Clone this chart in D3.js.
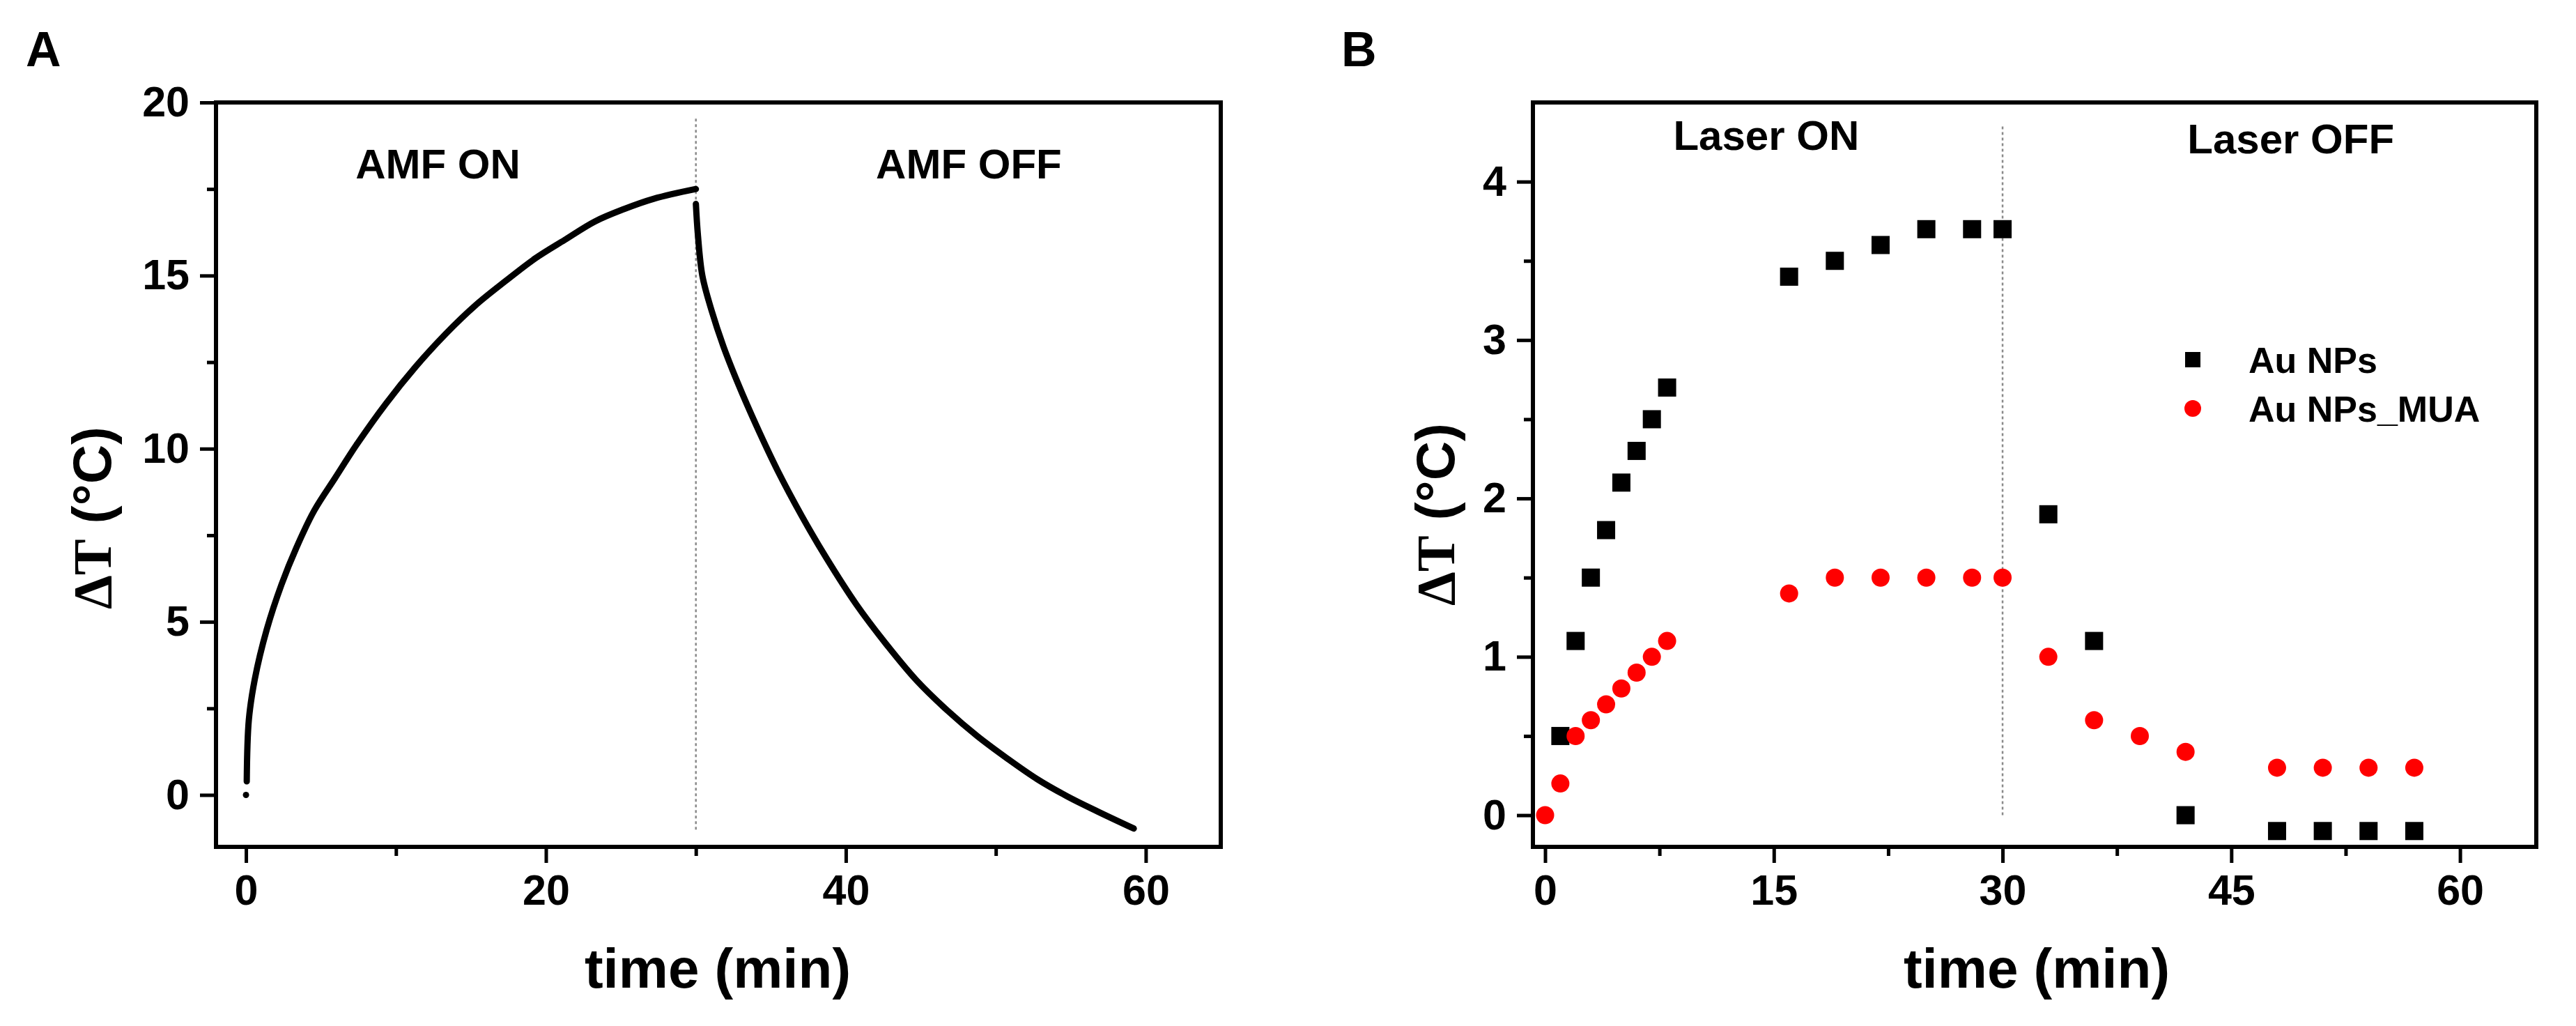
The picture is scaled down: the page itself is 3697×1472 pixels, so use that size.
<!doctype html>
<html>
  <head>
    <meta charset="utf-8">
    <title>Heating and cooling curves</title>
    <style>
      body { margin: 0; background: #fff; }
      text { font-family: 'Liberation Sans', Arial, sans-serif; font-weight: bold; fill: #000; }
    </style>
  </head>
  <body>
    <svg width='3697' height='1472'></svg>

  <script src='https://d3js.org/d3.v7.min.js'></script>
  <script>
// Panel A: AMF heating then cooling trace
var amfStartTime = [0];
var amfStartDT = [0];
var amfOnTime = [0.05, 0.19, 0.59, 1.38, 2.37, 3.37, 4.56, 5.95, 7.35, 9.33, 11.3, 13.3, 15.3, 17.3, 19.3, 21.25, 23.25, 25.2, 27.2, 30.0];
var amfOnDT = [0.39, 2.17, 3.35, 4.77, 6.08, 7.15, 8.22, 9.16, 10.1, 11.3, 12.36, 13.31, 14.14, 14.84, 15.5, 16.03, 16.56, 16.92, 17.22, 17.5];
var amfOffTime = [30.0, 30.13, 30.43, 31.04, 31.84, 32.84, 34.05, 35.47, 37.07, 38.69, 40.7, 42.7, 44.73, 46.74, 48.76, 50.77, 52.78, 54.8, 56.8, 59.2];
var amfOffDT = [17.07, 16.2, 15.0, 14.0, 12.95, 11.85, 10.65, 9.35, 8.05, 6.85, 5.5, 4.35, 3.3, 2.45, 1.7, 1.05, 0.45, -0.05, -0.48, -0.97];
var aXTicks = [0, 20, 40, 60];
var aXMinor = [10, 30, 50];
var aYTicks = [0, 5, 10, 15, 20];
var aYMinor = [2.5, 7.5, 12.5, 17.5];

// Panel B: laser heating, two samples
var npTime = [1, 2, 3, 4, 5, 6, 7, 8, 16, 19, 22, 25, 28, 30, 33, 36, 42, 48, 51, 54, 57];
var npDT = [0.5, 1.1, 1.5, 1.8, 2.1, 2.3, 2.5, 2.7, 3.4, 3.5, 3.6, 3.7, 3.7, 3.7, 1.9, 1.1, 0, -0.1, -0.1, -0.1, -0.1];
var muaTime = [0, 1, 2, 3, 4, 5, 6, 7, 8, 16, 19, 22, 25, 28, 30, 33, 36, 39, 42, 48, 51, 54, 57];
var muaDT = [0, 0.2, 0.5, 0.6, 0.7, 0.8, 0.9, 1.0, 1.1, 1.4, 1.5, 1.5, 1.5, 1.5, 1.5, 1.0, 0.6, 0.5, 0.4, 0.3, 0.3, 0.3, 0.3];
var bXTicks = [0, 15, 30, 45, 60];
var bXMinor = [7.5, 22.5, 37.5, 52.5];
var bYTicks = [0, 1, 2, 3, 4];
var bYMinor = [0.5, 1.5, 2.5, 3.5];
var seriesNames = ['Au NPs', 'Au NPs_MUA'];

var svg = d3.select('svg');
svg.append('rect').attr('width', 3697).attr('height', 1472).attr('fill', '#fff');

// frame, ticks, tick labels and titles shared by both panels
function drawPanel(p) {
  var g = svg.append('g').attr('transform', 'translate(' + p.left + ',' + p.top + ')');
  var x = d3.scaleLinear().domain(p.xDomain).range([0, p.width]);
  var y = d3.scaleLinear().domain(p.yDomain).range([p.height, 0]);
  var fmt = d3.format('~g');

  var xMinor = g.append('g').attr('transform', 'translate(0,' + p.height + ')')
    .call(d3.axisBottom(x).tickValues(p.xMinor).tickSize(13).tickFormat(''));
  var xMajor = g.append('g').attr('transform', 'translate(0,' + p.height + ')')
    .call(d3.axisBottom(x).tickValues(p.xTicks).tickSize(23).tickPadding(17).tickFormat(fmt));
  var yMinor = g.append('g')
    .call(d3.axisLeft(y).tickValues(p.yMinor).tickSize(13).tickFormat(''));
  var yMajor = g.append('g')
    .call(d3.axisLeft(y).tickValues(p.yTicks).tickSize(23).tickPadding(15).tickFormat(fmt));
  [xMinor, xMajor, yMinor, yMajor].forEach(function(a) {
    a.select('.domain').remove();
    a.selectAll('line').attr('stroke', '#000').attr('stroke-width', 5);
    a.selectAll('text').style('font-size', '61px').attr('fill', '#000');
  });

  g.append('rect').attr('width', p.width).attr('height', p.height)
    .attr('fill', 'none').attr('stroke', '#000').attr('stroke-width', 6);

  // dotted separator at the switch-off time
  g.append('line')
    .attr('x1', x(30)).attr('x2', x(30))
    .attr('y1', y(p.sepRange[0])).attr('y2', y(p.sepRange[1]))
    .attr('stroke', '#8a8a8a').attr('stroke-width', 2.5).attr('stroke-dasharray', '4,4');

  svg.append('text').attr('x', p.letterX).attr('y', 95).style('font-size', '70px').text(p.letter);

  svg.append('text').attr('x', p.xTitleX).attr('y', 1417).attr('text-anchor', 'middle')
    .style('font-size', '80px').text('time (min)');

  var yt = svg.append('text')
    .attr('transform', 'translate(' + p.yTitleX + ',' + p.yTitleY + ') rotate(-90)')
    .attr('text-anchor', 'middle').attr('dy', '0.35em').style('font-size', '78px');
  yt.append('tspan').style('font-family', "'Liberation Serif', 'Times New Roman', serif").text('\u0394T');
  yt.append('tspan').text(' (\u00b0C)');

  p.notes.forEach(function(n) {
    g.append('text').attr('x', x(n[1])).attr('y', y(n[2])).attr('text-anchor', 'middle')
      .style('font-size', '60px').text(n[0]);
  });
  return {g: g, x: x, y: y};
}

// Panel A
var A = drawPanel({
  letter: 'A', letterX: 37,
  left: 310, top: 147, width: 1442, height: 1068,
  xDomain: [-2, 65], yDomain: [-1.5, 20],
  xTicks: aXTicks, xMinor: aXMinor, yTicks: aYTicks, yMinor: aYMinor,
  sepRange: [-1.0, 19.6],
  xTitleX: 1030, yTitleX: 132, yTitleY: 743,
  notes: [['AMF ON', 12.8, 17.8], ['AMF OFF', 48.2, 17.8]]
});

var line = d3.line().x(function(d) { return A.x(d[0]); }).y(function(d) { return A.y(d[1]); })
  .curve(d3.curveCatmullRom.alpha(0.5));
[[amfOnTime, amfOnDT], [amfOffTime, amfOffDT]].forEach(function(s) {
  A.g.append('path')
    .attr('d', line(d3.zip(s[0], s[1])))
    .attr('fill', 'none').attr('stroke', '#000').attr('stroke-width', 9)
    .attr('stroke-linecap', 'round').attr('stroke-linejoin', 'round');
});
A.g.selectAll('.start').data(d3.zip(amfStartTime, amfStartDT)).enter().append('circle')
  .attr('cx', function(d) { return A.x(d[0]); }).attr('cy', function(d) { return A.y(d[1]); })
  .attr('r', 4.5).attr('fill', '#000');

// Panel B
var B = drawPanel({
  letter: 'B', letterX: 1925,
  left: 2200, top: 147, width: 1440, height: 1068,
  xDomain: [-0.8, 65], yDomain: [-0.2, 4.5],
  xTicks: bXTicks, xMinor: bXMinor, yTicks: bYTicks, yMinor: bYMinor,
  sepRange: [0, 4.35],
  xTitleX: 2923, yTitleX: 2060, yTitleY: 738,
  notes: [['Laser ON', 14.5, 4.2], ['Laser OFF', 48.9, 4.18]]
});

B.g.selectAll('.np').data(d3.zip(npTime, npDT)).enter().append('rect')
  .attr('x', function(d) { return B.x(d[0]) - 13; }).attr('y', function(d) { return B.y(d[1]) - 13; })
  .attr('width', 26).attr('height', 26).attr('fill', '#000');
B.g.selectAll('.mua').data(d3.zip(muaTime, muaDT)).enter().append('circle')
  .attr('cx', function(d) { return B.x(d[0]); }).attr('cy', function(d) { return B.y(d[1]); })
  .attr('r', 13).attr('fill', '#ff0000');

// legend
var legend = svg.append('g').attr('transform', 'translate(3147,516)');
legend.append('rect').attr('x', -11).attr('y', -11).attr('width', 22).attr('height', 22).attr('fill', '#000');
legend.append('circle').attr('cx', 0).attr('cy', 70).attr('r', 12).attr('fill', '#ff0000');
seriesNames.forEach(function(name, i) {
  legend.append('text').attr('x', 80).attr('y', 19 + i * 70).style('font-size', '52px').text(name);
});
  </script>
  </body>
</html>
